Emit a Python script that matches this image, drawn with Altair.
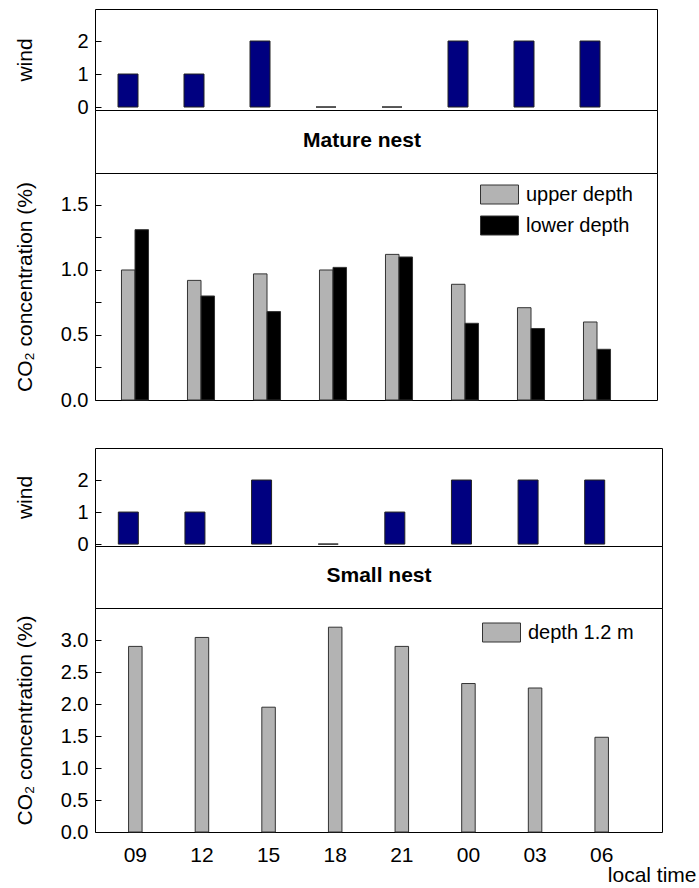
import altair as alt
import pandas as pd

times = ["09", "12", "15", "18", "21", "00", "03", "06"]
mature_wind = [1, 1, 2, 0, 0, 2, 2, 2]
small_wind = [1, 1, 2, 0, 1, 2, 2, 2]
mature_upper = [1.00, 0.92, 0.97, 1.00, 1.12, 0.89, 0.71, 0.60]
mature_lower = [1.31, 0.80, 0.68, 1.02, 1.10, 0.59, 0.55, 0.39]
small_co2 = [2.90, 3.04, 1.95, 3.20, 2.90, 2.32, 2.25, 1.48]
depth_labels = ["upper depth", "lower depth"]
small_label = ["depth 1.2 m"]

FONT = "Liberation Sans"
GRAY = "#b3b3b3"
NAVY = "#000080"
RECT = "M-1,-0.5H1V0.5H-1Z"


def xscale(rng, pi):
    return alt.Scale(domain=times, range=rng, paddingInner=pi, paddingOuter=pi / 2)


def yaxis(title, values, height, fmt=None, label_expr=None):
    kw = dict(
        title=title, values=values, offset=-6, domain=False, tickSize=6,
        tickColor="black", labelPadding=7, labelFontSize=20, titleFontSize=21,
        titleX=-76, titleY=height / 2, titleAngle=-90, titleBaseline="middle",
        titleAlign="center", grid=False,
    )
    if fmt:
        kw["format"] = fmt
    if label_expr:
        kw["labelExpr"] = label_expr
    return alt.Axis(**kw)


def wind_chart(vals, width, height, domain, rng):
    df = pd.DataFrame({"time": times, "wind": vals})
    return alt.Chart(df).mark_bar(
        width=20, xOffset=-7, color=NAVY, stroke="#222", strokeWidth=1
    ).encode(
        x=alt.X("time:N", sort=times, scale=xscale(rng, 0.6), axis=None),
        y=alt.Y("wind:Q", scale=alt.Scale(domain=domain, nice=False, zero=False),
                axis=yaxis("wind", [0, 1, 2], height)),
    ).properties(width=width, height=height)


def title_chart(label, width, height, xpos):
    df = pd.DataFrame({"label": [label]})
    return alt.Chart(df).mark_text(
        font=FONT, fontSize=21, fontWeight="bold", color="black"
    ).encode(
        text="label:N", x=alt.value(xpos), y=alt.value(height / 2 - 1)
    ).properties(width=width, height=height)


def legend(x, y):
    return alt.Legend(title=None, orient="none", legendX=x, legendY=y,
                      symbolType=RECT, symbolSize=1444,
                      symbolStrokeColor="#333", symbolStrokeWidth=1,
                      labelFontSize=20, labelFont=FONT, labelColor="black",
                      rowPadding=-9, padding=0, labelOffset=7)


# Mature nest CO2
mdf = pd.DataFrame({
    "time": times * 2,
    "depth": [depth_labels[0]] * 8 + [depth_labels[1]] * 8,
    "co2": mature_upper + mature_lower,
})
MH = 227
mature_co2 = alt.Chart(mdf).mark_bar(stroke="#333", strokeWidth=1).encode(
    x=alt.X("time:N", sort=times, scale=xscale([7, 535], 0.59), axis=None),
    xOffset=alt.XOffset("depth:N", sort=depth_labels, scale=alt.Scale(paddingInner=0)),
    y=alt.Y("co2:Q", scale=alt.Scale(domain=[0, 1.746], nice=False),
            axis=yaxis("CO₂ concentration (%)", [0, 0.25, 0.5, 0.75, 1.0, 1.25, 1.5], MH,
                       label_expr="datum.value % 0.5 == 0 ? format(datum.value, '.1f') : ''")),
    color=alt.Color("depth:N", sort=depth_labels,
                    scale=alt.Scale(domain=depth_labels, range=[GRAY, "#000000"]),
                    legend=legend(385, 2)),
).properties(width=562, height=MH)

# Small nest CO2
sdf = pd.DataFrame({"time": times, "co2": small_co2, "series": small_label * 8})
SH = 224
small_co2_chart = alt.Chart(sdf).mark_bar(width=13.5, stroke="#333", strokeWidth=1).encode(
    x=alt.X("time:N", sort=times, scale=xscale([7, 540], 0.6),
            axis=alt.Axis(title="local time", labelAngle=0, ticks=False, tickSize=0,
                          domain=False, labelPadding=12, labelFontSize=21,
                          titleFontSize=21, titleX=601, titleY=43, titleAlign="right",
                          titleBaseline="middle")),
    y=alt.Y("co2:Q", scale=alt.Scale(domain=[0, 3.5], nice=False),
            axis=yaxis("CO₂ concentration (%)", [0, 0.5, 1.0, 1.5, 2.0, 2.5, 3.0], SH, fmt=".1f")),
    color=alt.Color("series:N", scale=alt.Scale(domain=small_label, range=[GRAY]),
                    legend=legend(387, 5)),
).properties(width=567, height=SH)

mature = alt.vconcat(
    wind_chart(mature_wind, 562, 101, [-0.09, 2.97], [7, 535]),
    title_chart("Mature nest", 562, 63, 267),
    mature_co2,
    spacing=0, bounds="flush",
).resolve_scale(x="independent", y="independent", color="independent", xOffset="independent")

small = alt.vconcat(
    wind_chart(small_wind, 567, 98, [-0.06, 3.0], [7, 540]),
    title_chart("Small nest", 567, 62, 284),
    small_co2_chart,
    spacing=0, bounds="flush",
).resolve_scale(x="independent", y="independent", color="independent", xOffset="independent")

chart = alt.vconcat(
    mature, small, spacing=36
).resolve_scale(
    x="independent", y="independent", color="independent", xOffset="independent"
).properties(
    padding={"left": 13, "top": 8, "right": 0, "bottom": 0}, background="white"
).configure_view(
    stroke="black", strokeWidth=1
).configure_axis(
    labelFont=FONT, titleFont=FONT, labelColor="black", titleColor="black",
    titleFontWeight="normal"
)

chart.save("out.html", embed_options={"renderer": "svg", "actions": False})
